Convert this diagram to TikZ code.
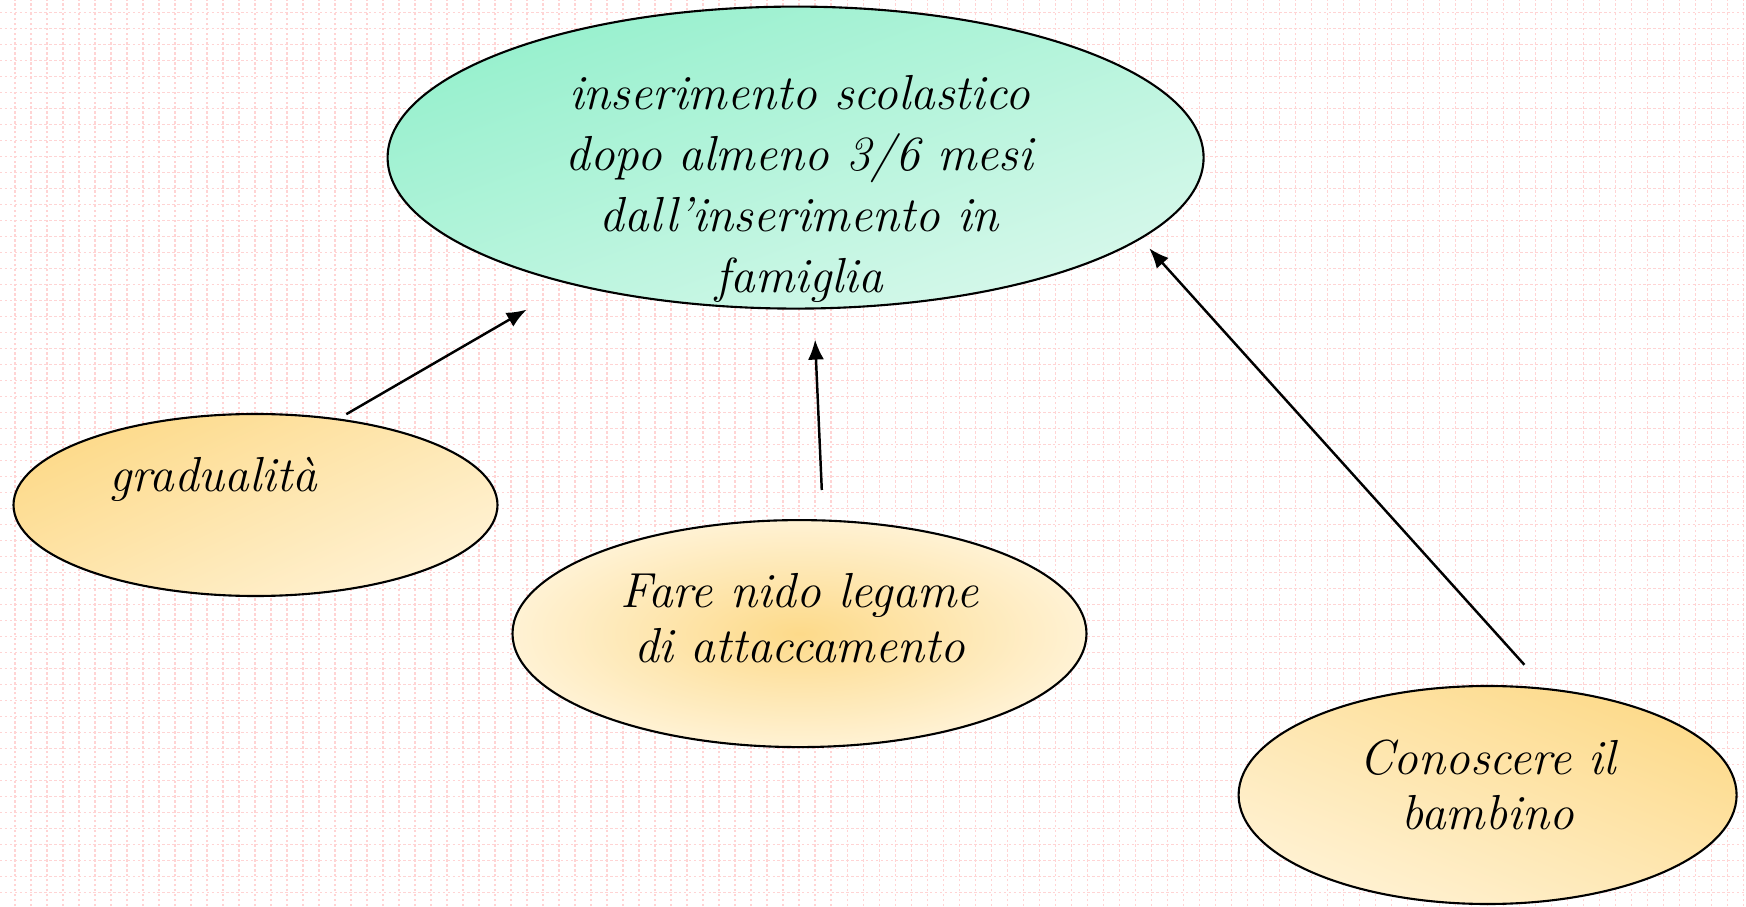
\documentclass[tikz,border=0pt]{standalone}
\usepackage{xcolor}
\usetikzlibrary{shapes.geometric}
\usetikzlibrary{arrows.meta}
\definecolor{grid-pink}{RGB}{255, 212, 212}
\definecolor{mint-dark}{RGB}{150, 240, 205}
\definecolor{mint-light}{RGB}{215, 248, 235}
\definecolor{sand-dark}{RGB}{253, 218, 138}
\definecolor{sand-light}{RGB}{255, 242, 212}
\tikzset{
  bubble/.style={ellipse, draw=black, line width=0.6pt, inner sep=0pt},
  bubbletext/.style={align=center, font=\itshape\fontsize{14}{15.8}\selectfont},
  arr/.style={-{Latex[length=0.2cm, width=0.16cm]}, line width=0.7pt}
}

\begin{document}
\begin{tikzpicture}
\useasboundingbox (0,0) rectangle (17.46,9.06);
\fill[white] (0,0) rectangle (17.46,9.06);

% background grid
\foreach \i in {0,...,108}
  \draw[grid-pink, line width=0.3pt, dash pattern=on 0.7pt off 0.7pt] (0.15+0.16*\i,0) -- (0.15+0.16*\i,9.06);
\foreach \j in {0,...,56}
  \draw[grid-pink, line width=0.3pt, dash pattern=on 0.7pt off 0.7pt] (0,8.933-0.16*\j) -- (17.46,8.933-0.16*\j);

\node[bubble, minimum width=8.16cm, minimum height=3.02cm, top color=mint-dark, bottom color=mint-light, shading angle=20] (main) at (7.956,7.484) {};
\node[bubble, minimum width=4.84cm, minimum height=1.82cm, top color=sand-dark, bottom color=sand-light, shading angle=25] (grad) at (2.555,4.01) {};
\node[bubble, minimum width=5.74cm, minimum height=2.27cm, inner color=sand-dark, outer color=sand-light] (nido) at (7.995,2.724) {};
\node[bubble, minimum width=4.98cm, minimum height=2.18cm, top color=sand-dark, bottom color=sand-light, shading angle=-22] (cono) at (14.876,1.11) {};

\node[bubbletext, font=\itshape\fontsize{14}{17.4}\selectfont] (mainlbl) at (7.995,7.17) {inserimento scolastico\\dopo almeno 3/6 mesi\\dall’inserimento in\\famiglia};
\node[bubbletext] (gradlbl) at (2.13,4.27) {gradualità};
\node[bubbletext] (nidolbl) at (7.995,2.88) {Fare nido legame\\di attaccamento};
\node[bubbletext] (conolbl) at (14.876,1.21) {Conoscere il\\bambino};

% arrow ends
\coordinate (gradout) at (3.463,4.918);
\coordinate (gradin) at (5.267,5.964);
\coordinate (nidoout) at (8.218,4.16);
\coordinate (nidoin) at (8.151,5.664);
\coordinate (conoout) at (15.244,2.412);
\coordinate (conoin) at (11.492,6.577);

\draw[arr] (gradout) -- (gradin);
\draw[arr] (nidoout) -- (nidoin);
\draw[arr] (conoout) -- (conoin);
\end{tikzpicture}
\end{document}
